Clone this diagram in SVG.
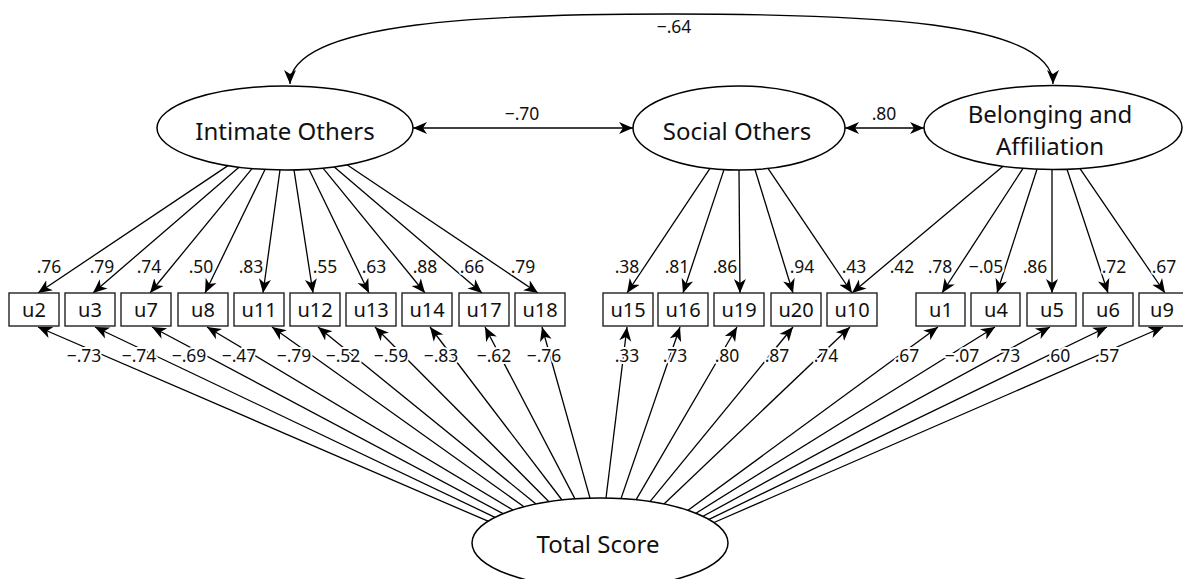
<svg xmlns="http://www.w3.org/2000/svg" width="1183" height="579" viewBox="0 0 1183 579">
<style>
.lat{fill:#fff;stroke:#000;stroke-width:1.5}
.box{fill:#fff;stroke:#222;stroke-width:1.4}
.lt{font-family:"Noto Sans","DejaVu Sans",sans-serif;font-size:24px;fill:#111;text-anchor:middle}
.bt{font-family:"Noto Sans","DejaVu Sans",sans-serif;font-size:20px;fill:#111;text-anchor:middle}
.e{fill:none;stroke:#000;stroke-width:1.3;marker-end:url(#ah)}
.d{fill:none;stroke:#000;stroke-width:1.3;marker-end:url(#ah);marker-start:url(#ah)}
.n{font-family:"Noto Sans","DejaVu Sans",sans-serif;font-size:17.5px;fill:#111;text-anchor:middle;stroke:#fff;stroke-width:4;paint-order:stroke;stroke-linejoin:round}
</style>
<defs>
<marker id="ah" markerUnits="userSpaceOnUse" viewBox="0 -7 15 14" markerWidth="15" markerHeight="14" refX="14" refY="0" orient="auto-start-reverse">
<path d="M0,-6 L14,0 L0,6 L4,0 Z" fill="#000"/>
</marker>
</defs>

<g id="connectors">
<path class="d" d="M290,84 C290,20 500,14 672,14 C860,14 1053,20 1053,84"/>
<path class="d" d="M413,128 L633,128"/>
<path class="d" d="M845,128 L924,128"/>
<path class="e" d="M228,165.6 L38,293"/>
<path class="e" d="M239,167.2 L93,293"/>
<path class="e" d="M252,168.6 L150,293"/>
<path class="e" d="M265,169.5 L205,293"/>
<path class="e" d="M280,170 L263,293"/>
<path class="e" d="M294,169.9 L313,293"/>
<path class="e" d="M309,169.3 L369,293"/>
<path class="e" d="M323,168.1 L425,293"/>
<path class="e" d="M334,166.8 L482,293"/>
<path class="e" d="M347,164.7 L538,293"/>
<path class="e" d="M710,168.4 L627,293"/>
<path class="e" d="M724,169.6 L683,293"/>
<path class="e" d="M739,170 L740,293"/>
<path class="e" d="M755,169.5 L793,293"/>
<path class="e" d="M768,168.4 L852,293"/>
<path class="e" d="M1003,166.2 L852,293"/>
<path class="e" d="M1023,168.4 L942,293"/>
<path class="e" d="M1037,169.2 L997,293"/>
<path class="e" d="M1052,169.5 L1052,293"/>
<path class="e" d="M1067,169.3 L1108,293"/>
<path class="e" d="M1080,168.6 L1165,293"/>
<path class="e" d="M488,521.2 L38,327"/>
<path class="e" d="M495,517.3 L95,327"/>
<path class="e" d="M503,513.6 L152,327"/>
<path class="e" d="M513,510 L207,327"/>
<path class="e" d="M524,506.8 L272,327"/>
<path class="e" d="M536,504 L318,327"/>
<path class="e" d="M549,501.7 L375,327"/>
<path class="e" d="M562,500 L430,327"/>
<path class="e" d="M575,498.9 L485,327"/>
<path class="e" d="M590,498.1 L542,327"/>
<path class="e" d="M606,498 L627,327"/>
<path class="e" d="M621,498.6 L680,327"/>
<path class="e" d="M636,499.8 L737,327"/>
<path class="e" d="M650,501.6 L793,327"/>
<path class="e" d="M664,504 L850,327"/>
<path class="e" d="M688,510.3 L938,327"/>
<path class="e" d="M696,513.2 L995,327"/>
<path class="e" d="M703,516.3 L1050,327"/>
<path class="e" d="M709,519.4 L1107,327"/>
<path class="e" d="M714,522.5 L1163,327"/>
</g>

<g id="labels">
<text class="n" x="674" y="33">−.64</text>
<text class="n" x="522" y="120">−.70</text>
<text class="n" x="884" y="120">.80</text>
<text class="n" x="49" y="273">.76</text>
<text class="n" x="102" y="273">.79</text>
<text class="n" x="149" y="273">.74</text>
<text class="n" x="201" y="273">.50</text>
<text class="n" x="251" y="273">.83</text>
<text class="n" x="325" y="273">.55</text>
<text class="n" x="374" y="273">.63</text>
<text class="n" x="425" y="273">.88</text>
<text class="n" x="472" y="273">.66</text>
<text class="n" x="523" y="273">.79</text>
<text class="n" x="627" y="273">.38</text>
<text class="n" x="677" y="273">.81</text>
<text class="n" x="725" y="273">.86</text>
<text class="n" x="802" y="273">.94</text>
<text class="n" x="854" y="273">.43</text>
<text class="n" x="902" y="273">.42</text>
<text class="n" x="940" y="273">.78</text>
<text class="n" x="986" y="273">−.05</text>
<text class="n" x="1035" y="273">.86</text>
<text class="n" x="1114" y="273">.72</text>
<text class="n" x="1164" y="273">.67</text>
<text class="n" x="84" y="362">−.73</text>
<text class="n" x="139" y="362">−.74</text>
<text class="n" x="189" y="362">−.69</text>
<text class="n" x="239" y="362">−.47</text>
<text class="n" x="294" y="362">−.79</text>
<text class="n" x="343" y="362">−.52</text>
<text class="n" x="391" y="362">−.59</text>
<text class="n" x="441" y="362">−.83</text>
<text class="n" x="494" y="362">−.62</text>
<text class="n" x="544" y="362">−.76</text>
<text class="n" x="627" y="362">.33</text>
<text class="n" x="675" y="362">.73</text>
<text class="n" x="727" y="362">.80</text>
<text class="n" x="777" y="362">.87</text>
<text class="n" x="826" y="362">.74</text>
<text class="n" x="907" y="362">.67</text>
<text class="n" x="962" y="362">−.07</text>
<text class="n" x="1008" y="362">.73</text>
<text class="n" x="1058" y="362">.60</text>
<text class="n" x="1107" y="362">.57</text>
</g>

<g id="intimate"><ellipse class="lat" cx="285" cy="128" rx="128" ry="42"/><text class="lt" x="285" y="140">Intimate Others</text></g>
<g id="social"><ellipse class="lat" cx="739" cy="128" rx="106" ry="42"/><text class="lt" x="737" y="140">Social Others</text></g>
<g id="belonging"><ellipse class="lat" cx="1053" cy="127.5" rx="129" ry="42"/><text class="lt" x="1050" y="123">Belonging and</text><text class="lt" x="1050" y="155">Affiliation</text></g>
<g id="total"><ellipse class="lat" cx="600" cy="543" rx="128" ry="45"/><text class="lt" x="598" y="553">Total Score</text></g>

<g id="u2"><rect class="box" x="9" y="293" width="50" height="33"/><text class="bt" x="34" y="317">u2</text></g>
<g id="u3"><rect class="box" x="65" y="293" width="50" height="33"/><text class="bt" x="90" y="317">u3</text></g>
<g id="u7"><rect class="box" x="121" y="293" width="50" height="33"/><text class="bt" x="146" y="317">u7</text></g>
<g id="u8"><rect class="box" x="178" y="293" width="50" height="33"/><text class="bt" x="203" y="317">u8</text></g>
<g id="u11"><rect class="box" x="234" y="293" width="50" height="33"/><text class="bt" x="259" y="317">u11</text></g>
<g id="u12"><rect class="box" x="290" y="293" width="50" height="33"/><text class="bt" x="315" y="317">u12</text></g>
<g id="u13"><rect class="box" x="346" y="293" width="50" height="33"/><text class="bt" x="371" y="317">u13</text></g>
<g id="u14"><rect class="box" x="402" y="293" width="50" height="33"/><text class="bt" x="427" y="317">u14</text></g>
<g id="u17"><rect class="box" x="459" y="293" width="50" height="33"/><text class="bt" x="484" y="317">u17</text></g>
<g id="u18"><rect class="box" x="515" y="293" width="50" height="33"/><text class="bt" x="540" y="317">u18</text></g>
<g id="u15"><rect class="box" x="603" y="293" width="50" height="33"/><text class="bt" x="628" y="317">u15</text></g>
<g id="u16"><rect class="box" x="658" y="293" width="50" height="33"/><text class="bt" x="683" y="317">u16</text></g>
<g id="u19"><rect class="box" x="714" y="293" width="50" height="33"/><text class="bt" x="739" y="317">u19</text></g>
<g id="u20"><rect class="box" x="771" y="293" width="50" height="33"/><text class="bt" x="796" y="317">u20</text></g>
<g id="u10"><rect class="box" x="827" y="293" width="50" height="33"/><text class="bt" x="852" y="317">u10</text></g>
<g id="u1"><rect class="box" x="916" y="293" width="49" height="33"/><text class="bt" x="941" y="317">u1</text></g>
<g id="u4"><rect class="box" x="971" y="293" width="49" height="33"/><text class="bt" x="996" y="317">u4</text></g>
<g id="u5"><rect class="box" x="1027" y="293" width="49" height="33"/><text class="bt" x="1052" y="317">u5</text></g>
<g id="u6"><rect class="box" x="1083" y="293" width="50" height="33"/><text class="bt" x="1108" y="317">u6</text></g>
<g id="u9"><rect class="box" x="1139" y="293" width="50" height="33"/><text class="bt" x="1162" y="317">u9</text></g>
</svg>
